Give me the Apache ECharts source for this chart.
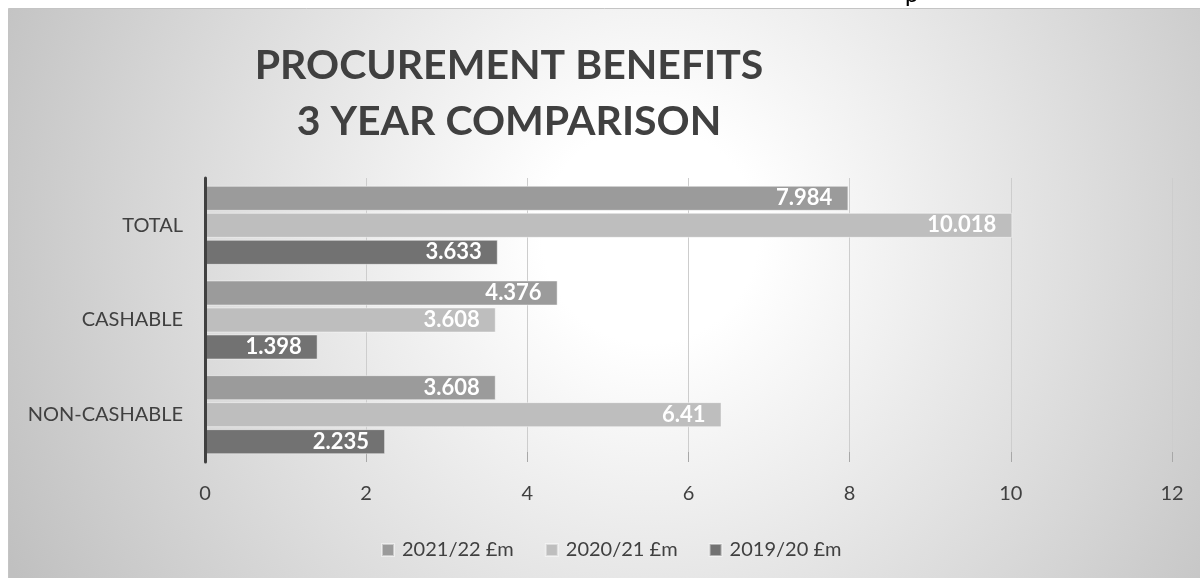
<!DOCTYPE html>
<html>
<head>
<meta charset="utf-8">
<script src="https://cdn.jsdelivr.net/npm/echarts@6/dist/echarts.min.js"></script>
<style>
  html, body { margin: 0; padding: 0; background: #ffffff; }
  #chart { width: 1200px; height: 578px; }
</style>
</head>
<body>
<div id="chart"></div>
<script>
// Categories, top to bottom
const categories = ['TOTAL', 'CASHABLE', 'NON-CASHABLE'];

// Benefit values (£m) per financial year
const fy2122 = [7.984, 4.376, 3.608];
const fy2021 = [10.018, 3.608, 6.41];
const fy1920 = [3.633, 1.398, 2.235];

const seriesNames = ['2021/22 £m', '2020/21 £m', '2019/20 £m'];
const xTicks = { min: 0, max: 12, interval: 2 };

const FONT = 'Lato, "Open Sans", sans-serif';
const TEXT = '#404040';
const barColors = ['#9b9b9b', '#bebebe', '#727272'];

const chart = echarts.init(document.getElementById('chart'), null, { renderer: 'canvas' });

function barSeries(name, values, color) {
  return {
    name: name,
    type: 'bar',
    data: values,
    barWidth: 25,
    barGap: '8%',
    itemStyle: {
      color: color,
      borderColor: 'rgba(255,255,255,0.45)',
      borderWidth: 1
    },
    label: {
      show: true,
      position: 'insideRight',
      distance: 16,
      color: '#ffffff',
      fontFamily: FONT,
      fontWeight: 'bold',
      fontSize: 22
    }
  };
}

chart.setOption({
  animation: false,
  textStyle: { fontFamily: FONT },
  graphic: [
    {
      type: 'rect',
      z: -10,
      silent: true,
      shape: { x: 8.5, y: 8.5, width: 1200, height: 600 },
      style: {
        fill: {
          type: 'radial', global: true, x: 650, y: 235, r: 720,
          colorStops: [
            { offset: 0, color: '#ffffff' },
            { offset: 0.15, color: '#ffffff' },
            { offset: 1, color: '#c0c0c0' }
          ]
        },
        stroke: '#c4c4c4',
        lineWidth: 1
      }
    },
    {
      type: 'text',
      z: 10,
      silent: true,
      x: 905,
      y: 6,
      style: { text: 'p', font: '24px ' + FONT, fill: '#000000', verticalAlign: 'bottom' }
    }
  ],
  title: {
    text: 'PROCUREMENT BENEFITS\n3 YEAR COMPARISON',
    left: 504,
    top: 33,
    textAlign: 'center',
    textStyle: {
      fontFamily: FONT,
      fontWeight: 'bold',
      fontSize: 41,
      lineHeight: 56,
      color: TEXT
    }
  },
  legend: {
    data: seriesNames,
    left: 376,
    top: 535,
    icon: 'rect',
    itemWidth: 12,
    itemHeight: 12,
    itemGap: 31,
    textStyle: { fontFamily: FONT, fontSize: 20, color: TEXT, padding: [0, 0, 0, 3] }
  },
  grid: { left: 205, right: 28, top: 178, bottom: 116, containLabel: false },
  xAxis: {
    type: 'value',
    min: xTicks.min,
    max: xTicks.max,
    interval: xTicks.interval,
    axisLine: { show: false },
    axisTick: { show: true, inside: true, length: 10, lineStyle: { color: '#a8a8a8', width: 1 } },
    splitLine: { show: true, lineStyle: { color: '#cdcdcd', width: 1 } },
    axisLabel: { color: TEXT, fontFamily: FONT, fontSize: 20, margin: 22 }
  },
  yAxis: {
    type: 'category',
    data: categories,
    inverse: true,
    z: 5,
    axisLine: { show: true, lineStyle: { color: '#404040', width: 3 } },
    axisTick: { show: false },
    axisLabel: { color: TEXT, fontFamily: FONT, fontSize: 20, margin: 22 }
  },
  series: [
    barSeries(seriesNames[0], fy2122, barColors[0]),
    barSeries(seriesNames[1], fy2021, barColors[1]),
    barSeries(seriesNames[2], fy1920, barColors[2])
  ]
});
</script>
</body>
</html>
